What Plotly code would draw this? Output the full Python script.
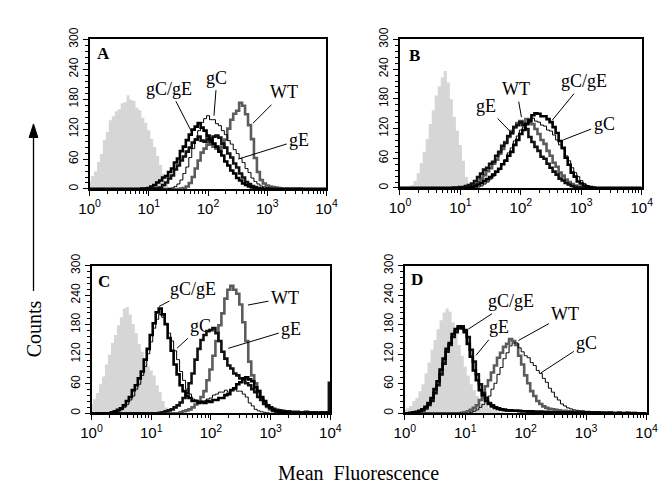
import plotly.graph_objects as go

W, H = 666, 484

# histogram channel positions, in decades (log10 of fluorescence)
DECADES = [0.00, 0.05, 0.10, 0.15, 0.20, 0.25, 0.30, 0.35, 0.40, 0.45,
           0.50, 0.55, 0.60, 0.65, 0.70, 0.75, 0.80, 0.85, 0.90, 0.95,
           1.00, 1.05, 1.10, 1.15, 1.20, 1.25, 1.30, 1.35, 1.40, 1.45,
           1.50, 1.55, 1.60, 1.65, 1.70, 1.75, 1.80, 1.85, 1.90, 1.95,
           2.00, 2.05, 2.10, 2.15, 2.20, 2.25, 2.30, 2.35, 2.40, 2.45,
           2.50, 2.55, 2.60, 2.65, 2.70, 2.75, 2.80, 2.85, 2.90, 2.95,
           3.00, 3.05, 3.10, 3.15, 3.20, 3.25, 3.30, 3.35, 3.40, 3.45,
           3.50, 3.55, 3.60, 3.65, 3.70, 3.75, 3.80, 3.85, 3.90, 3.95,
           4.00]

Z10 = [0, 0, 0, 0, 0, 0, 0, 0, 0, 0]

# ---------------- Panel A ----------------
A_ctrl = ([15, 26, 35, 54, 70, 98, 115, 138, 146, 156]
          + [160, 172, 174, 188, 179, 177, 163, 158, 143, 133]
          + [118, 100, 84, 66, 48, 30, 13, 4, 1, 0]
          + Z10 + Z10 + Z10 + Z10 + Z10 + [0])
A_gCgE = (Z10
          + [0, 0, 0, 0, 0, 0, 0, 0, 1, 1]
          + [2, 5, 8, 13, 17, 23, 26, 34, 41, 53]
          + [61, 76, 85, 98, 109, 119, 125, 132, 123, 117]
          + [107, 99, 91, 85, 75, 67, 55, 47, 37, 31]
          + [22, 17, 11, 8, 5, 3, 2, 1, 1, 0]
          + Z10 + Z10 + [0])
A_gE = (Z10 + Z10
        + [0, 0, 1, 2, 3, 8, 13, 21, 27, 39]
        + [47, 57, 65, 75, 83, 93, 99, 105, 97, 95]
        + [101, 95, 105, 107, 103, 91, 83, 71, 63, 51]
        + [43, 31, 23, 14, 10, 6, 4, 2, 1, 0]
        + Z10 + Z10 + [0])
A_gC = (Z10 + Z10
        + [0, 0, 0, 0, 0, 0, 0, 1, 2, 5]
        + [10, 18, 31, 44, 63, 81, 101, 117, 133, 141]
        + [147, 139, 139, 131, 127, 117, 109, 97, 90, 79]
        + [71, 61, 53, 41, 33, 22, 15, 10, 6, 4]
        + [3, 2, 1, 1, 0, 0, 0, 0, 0, 0]
        + Z10 + [0])
A_WT = (Z10 + Z10 + Z10
        + [0, 1, 2, 5, 12, 24, 41, 57, 73, 81]
        + [89, 90, 85, 81, 77, 85, 99, 121, 139, 151]
        + [157, 173, 167, 150, 128, 100, 62, 34, 18, 11]
        + [7, 5, 4, 3, 2, 1, 1, 1, 0, 1]
        + [0, 1, 0, 0, 0, 0, 0, 0, 0, 0] + [0])

# ---------------- Panel B ----------------
B_ctrl = ([0, 1, 2, 3, 6, 14, 30, 50, 73, 99]
          + [129, 157, 187, 205, 223, 236, 213, 179, 144, 116]
          + [87, 55, 22, 6, 1, 0, 0, 0, 0, 0]
          + Z10 + Z10 + Z10 + Z10 + Z10 + [0])
B_gE = (Z10
        + [0, 0, 0, 0, 0, 0, 0, 0, 1, 1]
        + [2, 2, 4, 6, 9, 14, 22, 29, 37, 41]
        + [49, 53, 65, 73, 85, 91, 105, 111, 123, 127]
        + [133, 127, 119, 103, 93, 83, 75, 63, 59, 49]
        + [41, 33, 27, 19, 15, 10, 7, 4, 2, 1]
        + Z10 + Z10 + [0])
B_WT = (Z10 + Z10
        + [0, 0, 0, 2, 4, 7, 12, 18, 26, 34]
        + [40, 49, 57, 69, 79, 93, 103, 115, 123, 131]
        + [135, 131, 139, 133, 129, 119, 109, 97, 89, 75]
        + [65, 51, 43, 31, 25, 17, 12, 8, 5, 3]
        + [2, 1, 0, 0, 0, 0, 0, 0, 0, 0]
        + Z10 + [0])
B_gCgE = (Z10 + Z10
          + [0, 0, 0, 0, 2, 4, 7, 10, 14, 18]
          + [22, 27, 33, 39, 48, 55, 65, 73, 87, 97]
          + [109, 117, 129, 137, 147, 151, 150, 145, 145, 139]
          + [133, 123, 111, 95, 81, 61, 47, 31, 23, 13]
          + [9, 5, 3, 2, 1, 0, 0, 0, 0, 0]
          + Z10 + [0])
B_gC = (Z10 + Z10
        + [0, 0, 0, 0, 0, 0, 2, 4, 8, 12]
        + [18, 24, 31, 37, 49, 57, 71, 81, 95, 105]
        + [117, 123, 131, 133, 141, 135, 133, 127, 125, 117]
        + [115, 107, 97, 87, 79, 65, 55, 41, 31, 23]
        + [15, 9, 5, 3, 1, 0, 0, 0, 0, 0]
        + Z10 + [0])

# ---------------- Panel C ----------------
C_ctrl = ([18, 29, 41, 59, 75, 99, 119, 143, 159, 179]
          + [195, 213, 216, 201, 181, 163, 141, 125, 105, 95]
          + [87, 77, 57, 43, 25, 12, 4, 1, 0, 0]
          + Z10 + Z10 + Z10 + Z10 + Z10 + [0])
C_gCgE = ([0, 0, 0, 0, 0, 0, 0, 2, 4, 7]
          + [10, 16, 25, 33, 47, 57, 71, 85, 109, 131]
          + [159, 183, 205, 213, 201, 181, 153, 127, 99, 79]
          + [57, 45, 35, 31, 25, 25, 21, 23, 21, 25]
          + [23, 27, 27, 31, 31, 37, 39, 47, 51, 59]
          + [63, 71, 73, 69, 65, 53, 45, 33, 25, 15]
          + [11, 6, 4, 3, 2, 2, 1, 1, 0, 0]
          + Z10 + [0])
C_gC = ([0, 0, 0, 0, 0, 0, 0, 0, 2, 4]
        + [7, 12, 18, 27, 35, 49, 59, 77, 95, 121]
        + [145, 173, 191, 201, 195, 183, 163, 147, 127, 109]
        + [85, 67, 49, 39, 29, 27, 23, 25, 25, 29]
        + [31, 37, 39, 43, 43, 47, 43, 47, 49, 45]
        + [45, 39, 33, 21, 15, 8, 5, 3, 2, 1]
        + Z10 + Z10 + [0])
C_gE = (Z10 + Z10
        + [0, 0, 0, 1, 2, 4, 6, 8, 12, 16]
        + [22, 31, 41, 61, 81, 109, 131, 149, 159, 167]
        + [169, 173, 163, 147, 125, 111, 97, 91, 81, 77]
        + [71, 69, 61, 57, 49, 43, 33, 27, 19, 16]
        + [12, 9, 7, 6, 5, 4, 4, 3, 3, 3]
        + [2, 2, 3, 2, 2, 2, 1, 2, 2, 2] + [62])
C_WT = (Z10 + Z10 + Z10
        + [2, 4, 6, 8, 12, 18, 24, 33, 45, 67]
        + [89, 117, 147, 179, 203, 233, 251, 259, 251, 243]
        + [221, 185, 147, 105, 77, 61, 45, 31, 21, 13]
        + [8, 5, 3, 2, 1, 0, 0, 0, 0, 0]
        + Z10 + [0])

# ---------------- Panel D ----------------
D_ctrl = ([8, 11, 15, 25, 31, 45, 59, 81, 103, 129]
          + [149, 171, 189, 205, 213, 207, 185, 165, 139, 117]
          + [95, 77, 59, 47, 35, 29, 21, 17, 11, 8]
          + [6, 4, 2, 1, 0, 0, 0, 0, 0, 0]
          + Z10 + Z10 + Z10 + Z10 + [0])
D_gCgE = ([0, 0, 1, 2, 3, 5, 8, 13, 21, 31]
          + [49, 65, 89, 111, 131, 143, 161, 171, 177, 173]
          + [165, 141, 115, 87, 67, 47, 37, 25, 19, 14]
          + [11, 9, 8, 7, 6, 6, 5, 5, 5, 4]
          + [4, 4, 4, 3, 3, 3, 3, 3, 2, 2]
          + [2, 2, 2, 2, 1, 2, 1, 1, 1, 1]
          + [1, 1, 1, 1, 1, 0, 1, 0, 1, 0]
          + [0, 1, 0, 0, 1, 0, 0, 0, 0, 0] + [0])
D_gE = ([0, 0, 0, 1, 2, 4, 6, 10, 17, 25]
        + [41, 57, 79, 101, 125, 139, 155, 165, 173, 177]
        + [169, 155, 129, 105, 79, 59, 41, 31, 21, 16]
        + [12, 10, 8, 7, 6, 6, 5, 5, 4, 4]
        + [4, 3, 3, 3, 3, 3, 2, 2, 2, 2]
        + [2, 2, 1, 1, 1, 1, 1, 1, 1, 1]
        + [1, 1, 0, 1, 0, 1, 0, 0, 1, 0]
        + Z10 + [0])
D_WT = (Z10
        + [0, 0, 0, 0, 0, 0, 0, 0, 0, 1]
        + [2, 4, 7, 11, 16, 27, 37, 55, 67, 83]
        + [97, 113, 123, 135, 141, 151, 147, 139, 117, 99]
        + [77, 61, 45, 35, 25, 19, 14, 11, 9, 8]
        + [7, 6, 5, 5, 4, 4, 3, 3, 3, 2]
        + [2, 2, 2, 1, 2, 1, 1, 1, 1, 1]
        + [1, 1, 0, 1, 0, 0, 1, 0, 0, 0] + [0])
D_gC = (Z10 + Z10
        + [0, 0, 2, 4, 7, 12, 18, 27, 35, 49]
        + [61, 79, 93, 111, 123, 137, 143, 143, 133, 125]
        + [117, 113, 103, 97, 87, 81, 71, 63, 51, 43]
        + [33, 27, 19, 15, 11, 9, 7, 6, 5, 5]
        + [4, 4, 3, 3, 3, 2, 2, 2, 2, 2]
        + [1, 2, 1, 1, 1, 1, 1, 0, 1, 0] + [0])

Y_TICKS = [0, 60, 120, 180, 240, 300]
X_TICKS = [1, 10, 100, 1000, 10000]
X_TICKTEXT = ["10<sup>0</sup>", "10<sup>1</sup>", "10<sup>2</sup>",
              "10<sup>3</sup>", "10<sup>4</sup>"]

STYLE = {
    "WT": dict(color="#5c5c5c", width=2.6),
    "gE": dict(color="#111111", width=2.6),
    "gC": dict(color="#000000", width=1.0),
    "gCgE": dict(color="#000000", width=2.6),
}

# panel placement in pixels: (left, right, top, bottom)
PANELS = [
    dict(letter="A", box=(73, 318, 20, 174), letter_xy=(87.5, 34),
         series=dict(ctrl=A_ctrl, WT=A_WT, gE=A_gE, gC=A_gC, gCgE=A_gCgE),
         labels=[("gC/gE", 1.72, 115, -22, -43), ("gC", 2.10, 147, 3, -38),
                 ("WT", 2.76, 132, 31, -31), ("gE", 2.51, 60, 61, -19)]),
    dict(letter="B", box=(394, 644, 20, 173), letter_xy=(409, 37),
         series=dict(ctrl=B_ctrl, WT=B_WT, gE=B_gE, gC=B_gC, gCgE=B_gCgE),
         labels=[("WT", 2.01, 143, -5, -28), ("gE", 1.88, 107, -28, -29),
                 ("gC/gE", 2.52, 137, 32, -39), ("gC", 2.70, 97, 41, -16)]),
    dict(letter="C", box=(75, 322, 253, 405), letter_xy=(87.5, 269),
         series=dict(ctrl=C_ctrl, WT=C_WT, gE=C_gE, gC=C_gC, gCgE=C_gCgE),
         labels=[("gC/gE", 1.13, 217, 34, -18), ("gC", 1.43, 132, 24, -22),
                 ("WT", 2.62, 220, 37, -7), ("gE", 2.29, 132, 63, -19)]),
    dict(letter="D", box=(399, 649, 253, 405), letter_xy=(411.5, 267.5),
         series=dict(ctrl=D_ctrl, WT=D_WT, gE=D_gE, gC=D_gC, gCgE=D_gCgE),
         labels=[("gC/gE", 1.05, 171, 43, -28), ("gE", 1.18, 118, 23, -28),
                 ("WT", 1.88, 148, 47, -26), ("gC", 2.25, 82, 46, -30)]),
]

X_VALUES = [10 ** d for d in DECADES]
MINOR_X = [m * 10 ** k for k in range(4) for m in range(2, 10)]

fig = go.Figure()
annotations = []
layout_axes = {}

SANS = "Liberation Sans, Arial, sans-serif"
SERIF = "Liberation Serif, Times New Roman, serif"

for i, p in enumerate(PANELS):
    n = "" if i == 0 else str(i + 1)
    xa, ya = "x" + n, "y" + n
    l, r, t, b = p["box"]
    for key in ["ctrl", "WT", "gE", "gC", "gCgE"]:
        vals = p["series"][key]
        assert len(vals) == len(DECADES), (p["letter"], key, len(vals))
        if key == "ctrl":
            fig.add_trace(go.Scatter(
                x=X_VALUES, y=vals, mode="lines", line=dict(width=0, shape="hvh"),
                fill="tozeroy", fillcolor="#d6d6d6", xaxis=xa, yaxis=ya,
                hoverinfo="skip"))
        else:
            st = STYLE[key]
            fig.add_trace(go.Scatter(
                x=X_VALUES, y=vals, mode="lines",
                line=dict(color=st["color"], width=st["width"], shape="hvh"),
                xaxis=xa, yaxis=ya, hoverinfo="skip"))
    layout_axes["xaxis" + n] = dict(
        type="log", range=[0, 4], domain=[l / W, r / W], anchor=ya,
        showgrid=False, zeroline=False, showline=True, linecolor="black",
        linewidth=1.5, mirror=True, ticks="outside", ticklen=5, tickwidth=1,
        tickcolor="black", tickvals=X_TICKS, ticktext=X_TICKTEXT,
        tickfont=dict(family=SANS, size=15, color="black"),
        minor=dict(tickmode="array", tickvals=MINOR_X, ticks="outside",
                   ticklen=3, tickwidth=1, tickcolor="black"))
    layout_axes["yaxis" + n] = dict(
        range=[0, 300], domain=[1 - b / H, 1 - t / H], anchor=xa,
        showgrid=False, zeroline=False, showline=True, linecolor="black",
        linewidth=1.5, mirror=True, ticks="outside", ticklen=5, tickwidth=1,
        tickcolor="black", tickvals=Y_TICKS, tickangle=-90,
        tickfont=dict(family=SANS, size=12, color="black"),
        minor=dict(dtick=12, tick0=0, ticks="outside", ticklen=3,
                   tickwidth=1, tickcolor="black"))
    lx, ly = p["letter_xy"]
    annotations.append(dict(
        text="<b>%s</b>" % p["letter"], x=lx / W, y=1 - ly / H, xref="paper",
        yref="paper", showarrow=False, xanchor="center", yanchor="middle",
        font=dict(family=SERIF, size=17, color="black")))
    for text, dec, cnt, ax, ay in p["labels"]:
        annotations.append(dict(
            text=text, x=dec, y=cnt, xref=xa, yref=ya, ax=ax, ay=ay,
            showarrow=True, arrowhead=0, arrowwidth=1, arrowcolor="black",
            font=dict(family=SERIF, size=18, color="black"), borderpad=2))

# axis titles
annotations.append(dict(
    text="Counts", x=15 / W, y=1 - 318 / H, xref="paper", yref="paper",
    textangle=-90, showarrow=False, xanchor="center", yanchor="middle",
    font=dict(family=SERIF, size=20, color="black")))
annotations.append(dict(
    text="Mean\u00a0 Fluorescence", x=351 / W, y=1 - 466 / H, xref="paper",
    yref="paper", showarrow=False, xanchor="center", yanchor="middle",
    font=dict(family=SERIF, size=20, color="black")))

# vertical arrow next to "Counts"
shapes = [
    dict(type="line", xref="paper", yref="paper", x0=15 / W, x1=15 / W,
         y0=1 - 279 / H, y1=1 - 118 / H, line=dict(color="black", width=1.3)),
    dict(type="path", xref="paper", yref="paper",
         path="M %f %f L %f %f L %f %f Z" % (
             10.5 / W, 1 - 121 / H, 15 / W, 1 - 107 / H, 19.5 / W, 1 - 121 / H),
         fillcolor="black", line=dict(color="black", width=1)),
]

fig.update_layout(
    width=W, height=H, margin=dict(l=0, r=0, t=0, b=0),
    paper_bgcolor="white", plot_bgcolor="white", showlegend=False,
    annotations=annotations, shapes=shapes, **layout_axes)

fig.write_html("out.html")
